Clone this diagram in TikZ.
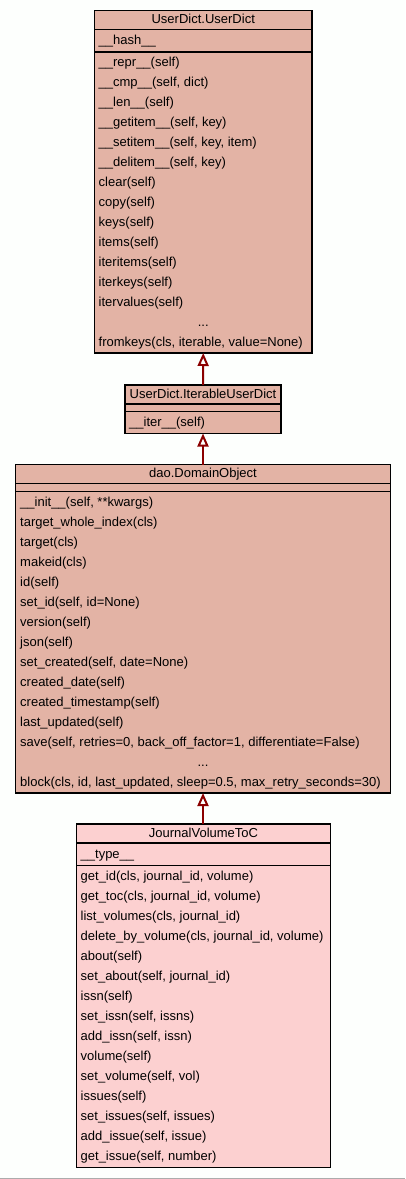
\documentclass[tikz,border=0pt]{standalone}
\usepackage{fontspec}
\setmainfont{Liberation Sans}
\usetikzlibrary{arrows.meta}
\definecolor{basefill}{RGB}{227,179,165}
\definecolor{leaffill}{RGB}{252,208,208}
\definecolor{inhcol}{RGB}{139,0,0}
\definecolor{bgcol}{RGB}{253,255,253}
\tikzset{
  classbox/.style={draw=black, line width=1.1pt, inner sep=0pt, outer sep=0pt, anchor=north west},
  sepline/.style={draw=black, line width=1.6pt},
  mtxt/.style={anchor=base west, inner sep=0pt, font=\fontsize{13}{15}\selectfont},
  ttxt/.style={anchor=base, inner sep=0pt, font=\fontsize{13}{15}\selectfont},
  inherit/.style={draw=inhcol, line width=2pt, -{Triangle[open, length=13pt, width=11pt, line width=2pt]}}
}
\begin{document}
\begin{tikzpicture}[x=1pt,y=-1pt]
\useasboundingbox (0,0) rectangle (405,1179);
\fill[bgcol] (0,0) rectangle (405,1179);
\draw[gray!65, line width=1.2pt] (0,1178.4) -- (405,1178.4);

% ---------- UserDict.UserDict ----------
\node[classbox, fill=basefill, minimum width=217.5pt, minimum height=342.5pt] (ud) at (94.5,10.5) {};
\draw[sepline] (ud.west |- 0,29.5) -- (ud.east |- 0,29.5);
\draw[sepline] (ud.west |- 0,52) -- (ud.east |- 0,52);
\node[ttxt] (udt) at (203.25,23.5) {UserDict.UserDict};
\node[mtxt] (uda) at (98.5,44.5) {\_\_hash\_\_};
\foreach \t [count=\k] in {{\_\_repr\_\_(self)},{\_\_cmp\_\_(self, dict)},{\_\_len\_\_(self)},{\_\_getitem\_\_(self, key)},{\_\_setitem\_\_(self, key, item)},{\_\_delitem\_\_(self, key)},{clear(self)},{copy(self)},{keys(self)},{items(self)},{iteritems(self)},{iterkeys(self)},{itervalues(self)}}
  \node[mtxt] (udm\k) at (98.5,{66.5+20*(\k-1)}) {\t};
\node[ttxt] (uddots) at (203.25,326.5) {...};
\node[mtxt] (udlast) at (98.5,346.5) {fromkeys(cls, iterable, value=None)};

% ---------- UserDict.IterableUserDict ----------
\node[classbox, fill=basefill, minimum width=156pt, minimum height=48.5pt] (iud) at (125,385) {};
\draw[sepline] (iud.west |- 0,404) -- (iud.east |- 0,404);
\draw[sepline] (iud.west |- 0,411.5) -- (iud.east |- 0,411.5);
\node[ttxt] (iudt) at (203,398) {UserDict.IterableUserDict};
\node[mtxt] (iudm1) at (129,426) {\_\_iter\_\_(self)};

% ---------- dao.DomainObject ----------
\node[classbox, fill=basefill, minimum width=375pt, minimum height=328.5pt] (dom) at (15.5,464.5) {};
\draw[sepline] (dom.west |- 0,483.5) -- (dom.east |- 0,483.5);
\draw[sepline] (dom.west |- 0,491.5) -- (dom.east |- 0,491.5);
\node[ttxt] (domt) at (203,477.5) {dao.DomainObject};
\foreach \t [count=\k] in {{\_\_init\_\_(self, **kwargs)},{target\_whole\_index(cls)},{target(cls)},{makeid(cls)},{id(self)},{set\_id(self, id=None)},{version(self)},{json(self)},{set\_created(self, date=None)},{created\_date(self)},{created\_timestamp(self)},{last\_updated(self)},{save(self, retries=0, back\_off\_factor=1, differentiate=False)}}
  \node[mtxt] (domm\k) at (20,{506.5+20*(\k-1)}) {\t};
\node[ttxt] (domdots) at (203,766.5) {...};
\node[mtxt] (domlast) at (20,786.5) {block(cls, id, last\_updated, sleep=0.5, max\_retry\_seconds=30)};

% ---------- JournalVolumeToC ----------
\node[classbox, fill=leaffill, minimum width=254pt, minimum height=343.5pt] (jvt) at (76.5,824) {};
\draw[sepline] (jvt.west |- 0,843) -- (jvt.east |- 0,843);
\draw[sepline] (jvt.west |- 0,865.5) -- (jvt.east |- 0,865.5);
\node[ttxt] (jvtt) at (203.5,837) {JournalVolumeToC};
\node[mtxt] (jvta) at (80.5,858) {\_\_type\_\_};
\foreach \t [count=\k] in {{get\_id(cls, journal\_id, volume)},{get\_toc(cls, journal\_id, volume)},{list\_volumes(cls, journal\_id)},{delete\_by\_volume(cls, journal\_id, volume)},{about(self)},{set\_about(self, journal\_id)},{issn(self)},{set\_issn(self, issns)},{add\_issn(self, issn)},{volume(self)},{set\_volume(self, vol)},{issues(self)},{set\_issues(self, issues)},{add\_issue(self, issue)},{get\_issue(self, number)}}
  \node[mtxt] (jvtm\k) at (80.5,{880+20*(\k-1)}) {\t};

% ---------- inheritance ----------
\draw[inherit] (iud.north) -- (ud.south);
\draw[inherit] (dom.north) -- (iud.south);
\draw[inherit] (jvt.north -| dom.south) -- (dom.south);
\end{tikzpicture}
\end{document}
